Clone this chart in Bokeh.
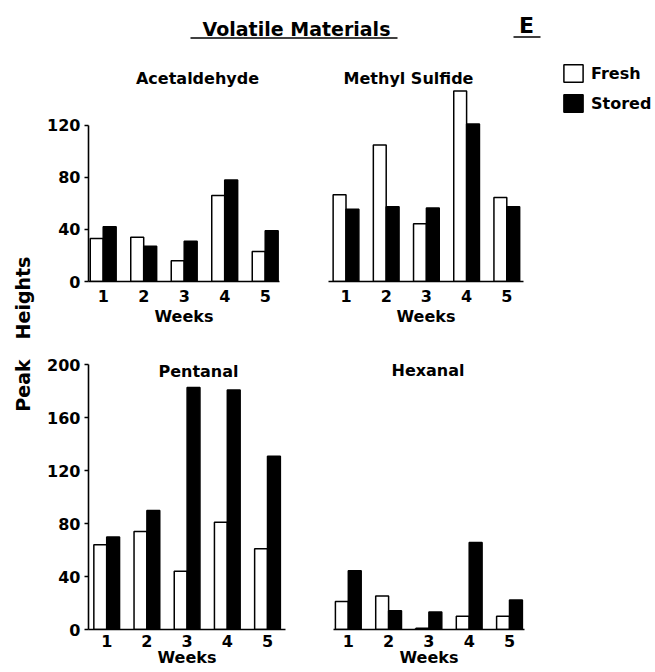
import math
from bokeh.plotting import figure
from bokeh.models import Range1d, Label, FixedTicker, Legend, LegendItem, ColumnDataSource
from bokeh.layouts import row, column
from bokeh.embed import file_html
from bokeh.resources import INLINE
from bokeh.transform import dodge

# ---------------- data ----------------
weeks = [1, 2, 3, 4, 5]
week_labels = ["1", "2", "3", "4", "5"]
acet_fresh = [33, 34, 16, 66, 23]
acet_stored = [42, 27, 31, 78, 39]
methyl_fresh = [66, 104, 44, 145, 64]
methyl_stored = [55, 57, 56, 120, 57]
pent_fresh = [64, 74, 44, 81, 61]
pent_stored = [70, 90, 183, 181, 131]
hex_fresh = [21, 25, 1, 10, 10]
hex_stored = [44, 14, 13, 65, 22]
ticks_top = [0, 40, 80, 120]
ticks_bottom = [0, 40, 80, 120, 160, 200]
series_names = ["Fresh", "Stored"]

FONT = "DejaVu Sans"
BLACK = "black"


def panel(title, fresh, stored, win_x0, fig_w, frame_l, frame_w, week1_px, step_px,
          row_y0, fig_h, frame_top, baseline, ppu, title_px, yticks=None,
          tick_standoff=8, label_standoff=2):
    y_end = (baseline - frame_top) / ppu
    x_start = 1 - (week1_px - frame_l) / step_px
    x_end = x_start + frame_w / step_px
    p = figure(width=fig_w, height=fig_h,
               x_range=Range1d(x_start, x_end), y_range=Range1d(0, y_end),
               output_backend="svg", toolbar_location=None,
               min_border_left=frame_l - win_x0,
               min_border_right=fig_w - (frame_l - win_x0) - frame_w,
               min_border_top=frame_top - row_y0,
               min_border_bottom=row_y0 + fig_h - baseline)
    p.outline_line_color = None
    p.xgrid.visible = False
    p.ygrid.visible = False
    p.background_fill_color = "white"
    p.border_fill_color = "white"

    src = ColumnDataSource(dict(week=weeks, fresh=fresh, stored=stored))
    p.vbar(x=dodge("week", -0.16, range=p.x_range), top="fresh", bottom=0, width=0.32,
           source=src, fill_color="white", line_color=BLACK, line_width=1.5)
    p.vbar(x=dodge("week", 0.16, range=p.x_range), top="stored", bottom=0, width=0.32,
           source=src, fill_color=BLACK, line_color=BLACK, line_width=1.5)

    ax = p.xaxis[0]
    ax.ticker = FixedTicker(ticks=weeks)
    ax.major_label_overrides = {w: l for w, l in zip(weeks, week_labels)}
    ax.major_tick_out = 0
    ax.major_tick_in = 0
    ax.minor_tick_out = 0
    ax.minor_tick_in = 0
    ax.axis_line_width = 1.6
    ax.axis_line_color = BLACK
    ax.major_label_text_font = FONT
    ax.major_label_text_font_style = "bold"
    ax.major_label_text_font_size = "16px"
    ax.major_label_text_color = BLACK
    ax.major_label_standoff = tick_standoff
    ax.axis_label = "Weeks"
    ax.axis_label_text_font = FONT
    ax.axis_label_text_font_style = "bold"
    ax.axis_label_text_font_size = "16px"
    ax.axis_label_text_color = BLACK
    ax.axis_label_standoff = label_standoff

    if yticks is not None:
        ay = p.yaxis[0]
        ay.ticker = FixedTicker(ticks=yticks)
        ay.bounds = (0, yticks[-1])
        ay.major_tick_out = 4
        ay.major_tick_in = 0
        ay.minor_tick_out = 0
        ay.minor_tick_in = 0
        ay.major_tick_line_width = 1.5
        ay.axis_line_width = 1.6
        ay.axis_line_color = BLACK
        ay.major_label_text_font = FONT
        ay.major_label_text_font_style = "bold"
        ay.major_label_text_font_size = "16px"
        ay.major_label_text_color = BLACK
        ay.major_label_standoff = 4
    else:
        p.yaxis.visible = False

    tx = 1 + (title_px[0] - week1_px) / step_px
    ty = (baseline - title_px[1]) / ppu
    p.add_layout(Label(x=tx, y=ty, text=title, text_font=FONT, text_font_style="bold",
                       text_font_size="16px", text_align="center", text_baseline="middle",
                       text_color=BLACK))
    return p


# ---------------- panels ----------------
tl = panel("Acetaldehyde", acet_fresh, acet_stored, 40, 264, 88, 191, 102.7, 40.5,
           50, 290, 60, 283, 1.325, (197, 76), yticks=ticks_top, tick_standoff=8, label_standoff=2)
tr = panel("Methyl Sulfide", methyl_fresh, methyl_stored, 304, 236, 328, 195, 345.5, 40.2,
           50, 290, 60, 281, 1.325, (408, 76), yticks=None, tick_standoff=8, label_standoff=2)
bl = panel("Pentanal", pent_fresh, pent_stored, 40, 264, 88, 197, 106.2, 40.2,
           340, 332, 350, 632, 1.337, (198, 371), yticks=ticks_bottom, tick_standoff=5, label_standoff=-2)
br = panel("Hexanal", hex_fresh, hex_stored, 304, 351, 333, 191, 347.8, 40.3,
           340, 332, 350, 629, 1.337, (427.5, 370), yticks=None, tick_standoff=5, label_standoff=-2)

# ---------------- legend ----------------
leg = figure(width=115, height=290, x_range=Range1d(0, 1), y_range=Range1d(0, 1),
             x_axis_type=None, y_axis_type=None, output_backend="svg", toolbar_location=None,
             min_border_left=21, min_border_right=0, min_border_top=12, min_border_bottom=0)
leg.outline_line_color = None
leg.xgrid.visible = False
leg.ygrid.visible = False
dummy = ColumnDataSource(dict(x=[float("nan")], top=[float("nan")]))
r_fresh = leg.vbar(x="x", top="top", width=0.5, source=dummy,
                   fill_color="white", line_color=BLACK, line_width=1.5)
r_stored = leg.vbar(x="x", top="top", width=0.5, source=dummy,
                    fill_color=BLACK, line_color=BLACK, line_width=1.5)
legend = Legend(items=[LegendItem(label=series_names[0], renderers=[r_fresh]),
                       LegendItem(label=series_names[1], renderers=[r_stored])],
                location="top_left", orientation="vertical", margin=0, padding=0,
                spacing=8, glyph_width=24, glyph_height=22, label_standoff=6,
                label_text_font=FONT, label_text_font_style="bold",
                label_text_font_size="16px", label_text_color=BLACK,
                border_line_color=None, background_fill_alpha=0)
leg.add_layout(legend)

# ---------------- header ----------------
hdr = figure(width=615, height=50, x_range=Range1d(0, 615), y_range=Range1d(50, 0),
             x_axis_type=None, y_axis_type=None, output_backend="svg", toolbar_location=None,
             min_border=0)
hdr.outline_line_color = None
hdr.xgrid.visible = False
hdr.ygrid.visible = False
hdr.add_layout(Label(x=256, y=28, text="Volatile Materials", text_font=FONT,
                     text_font_style="bold", text_font_size="19px", text_align="center",
                     text_baseline="middle", text_color=BLACK))
hdr.add_layout(Label(x=486, y=25, text="E", text_font=FONT, text_font_style="bold",
                     text_font_size="22px", text_align="center", text_baseline="middle",
                     text_color=BLACK))
hdr.segment(x0=[150, 473], y0=[37.5, 36.5], x1=[357, 500], y1=[37.5, 36.5],
            line_color=BLACK, line_width=1.5)

# ---------------- y label strip ----------------
strip = figure(width=40, height=672, x_range=Range1d(0, 40), y_range=Range1d(672, 0),
               x_axis_type=None, y_axis_type=None, output_backend="svg", toolbar_location=None,
               min_border=0)
strip.outline_line_color = None
strip.xgrid.visible = False
strip.ygrid.visible = False
strip.add_layout(Label(x=22, y=297.5, text="Heights", angle=math.pi / 2, text_font=FONT,
                       text_font_style="bold", text_font_size="19px", text_align="center",
                       text_baseline="middle", text_color=BLACK))
strip.add_layout(Label(x=22, y=385, text="Peak", angle=math.pi / 2, text_font=FONT,
                       text_font_style="bold", text_font_size="19px", text_align="center",
                       text_baseline="middle", text_color=BLACK))

layout = row(strip, column(hdr, row(tl, tr, leg), row(bl, br)))

open("out.html", "w").write(file_html(layout, INLINE))
